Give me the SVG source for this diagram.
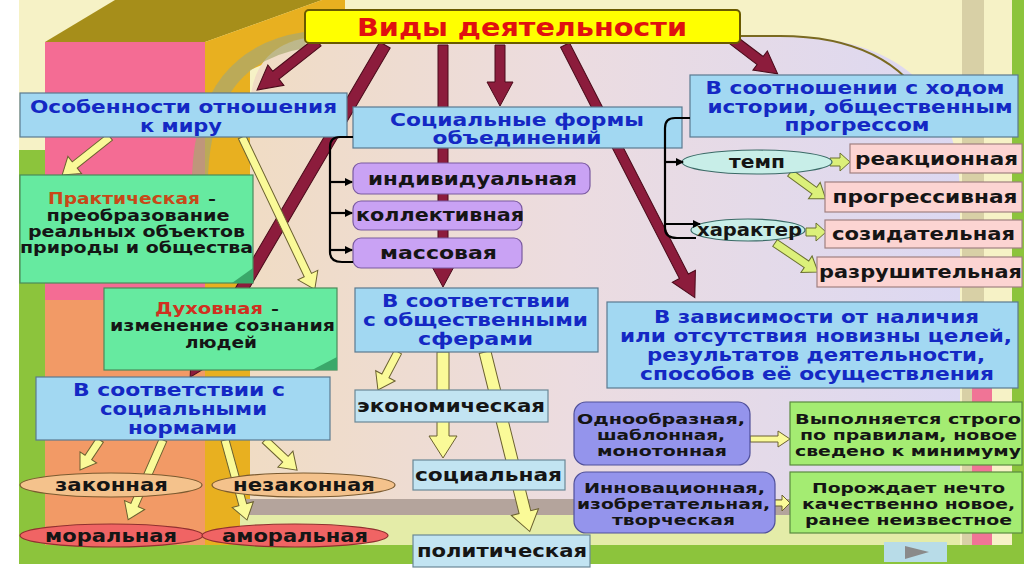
<svg xmlns="http://www.w3.org/2000/svg" width="1024" height="574" viewBox="0 0 1024 574">
<defs>
<linearGradient id="bgC" x1="0" y1="0" x2="1" y2="0">
<stop offset="0" stop-color="#f0dcc4"/>
<stop offset="0.45" stop-color="#ecdce0"/>
<stop offset="1" stop-color="#dcd8f2"/>
</linearGradient>
<marker id="bh" markerWidth="8" markerHeight="8" refX="7" refY="4" orient="auto" markerUnits="userSpaceOnUse">
<path d="M0,0 L8,4 L0,8 Z" fill="#000"/>
</marker>
<style>
.blue{fill:#a2d8f2;stroke:#5a7a90;stroke-width:1.2}
.lb{fill:#c2e4f2;stroke:#6a8896;stroke-width:1.2}
.pur{fill:#c9a2f4;stroke:#7a5aa0;stroke-width:1.2}
.pink{fill:#fcd4d2;stroke:#a08080;stroke-width:1.2}
.grn{fill:#66eaa0;stroke:#4a8a5a;stroke-width:1.2}
.lg{fill:#a4ec72;stroke:#5a8a40;stroke-width:1.2}
.per{fill:#9494ec;stroke:#50509a;stroke-width:1.2}
.tan{fill:#f4c28c;stroke:#7a5a30;stroke-width:1.2}
.red{fill:#f06464;stroke:#903030;stroke-width:1.2}
.teal{fill:#c8eee8;stroke:#3a6a66;stroke-width:1.2}
.t{font-family:"DejaVu Sans","Liberation Sans",sans-serif;font-weight:bold;text-anchor:middle}
.bt{fill:#1428c4}
.kt{fill:#151515}
.mar{fill:#8c1c3c;stroke:#4a0a1a;stroke-width:1}
.yel{fill:#fafa98;stroke:#6a6030;stroke-width:1}
.yg{fill:#dcf07a;stroke:#6a7030;stroke-width:1}
.br{fill:none;stroke:#000;stroke-width:2.2}
</style>
</defs>
<g id="background">
<rect x="0" y="0" width="1024" height="574" fill="#ffffff"/>
<rect x="19" y="0" width="1005" height="564" fill="#f6f2c6"/>
<rect x="19" y="150" width="26" height="414" fill="#8cc43c"/>
<polygon points="45,42 115,0 322,0 205,42" fill="#a68e1a"/>
<polygon points="205,42 322,0 345,0 345,30 250,70 250,545 205,545" fill="#e8b020"/>
<rect x="45" y="42" width="160" height="258" fill="#f46c94"/>
<rect x="45" y="300" width="160" height="245" fill="#f29a66"/>
<path d="M250,545 L250,110 Q250,36 330,36 L780,36 Q960,36 960,200 L960,545 Z" fill="url(#bgC)"/>
<path d="M735,36 L780,36 Q890,36 930,110" fill="none" stroke="#7a6a20" stroke-width="2"/>
<path d="M305,40 Q205,55 200,175" fill="none" stroke="#a8a870" stroke-width="16" opacity="0.7"/>
<rect x="240" y="499" width="720" height="16" fill="#b4a49c"/>
<rect x="240" y="515" width="720" height="30" fill="#e4eca8"/>
<rect x="962" y="0" width="22" height="545" fill="#d8d0a6"/>
<rect x="972" y="330" width="20" height="215" fill="#f07496"/>
<rect x="1012" y="0" width="12" height="545" fill="#8cc43c"/>
<rect x="19" y="545" width="1005" height="19" fill="#8cc43c"/>
<rect x="884" y="542" width="63" height="20" fill="#b8dce8"/>
<polygon points="905,546 905,559 929,552" fill="#8a8a8a"/>
</g>
<g id="connectors">
<polygon class="mar" transform="translate(318,42) rotate(141.8)" points="0,-5 53.6,-5 53.6,-13 77.6,0 53.6,13 53.6,5 0,5"/>
<polygon class="mar" transform="translate(385,45) rotate(120.4)" points="0,-6 359,-6 359,-14 385,0 359,14 359,6 0,6"/>
<polygon class="mar" transform="translate(443,45) rotate(90)" points="0,-5 218,-5 218,-13 242,0 218,13 218,5 0,5"/>
<polygon class="mar" transform="translate(500,45) rotate(90)" points="0,-5 37,-5 37,-13 61,0 37,13 37,5 0,5"/>
<polygon class="mar" transform="translate(565,45) rotate(62.8)" points="0,-5 260,-5 260,-13 284,0 260,13 260,5 0,5"/>
<polygon class="mar" transform="translate(733,40) rotate(37.1)" points="0,-5 34,-5 34,-12 56,0 34,12 34,5 0,5"/>
<polygon class="yel" transform="translate(110,137) rotate(141.6)" points="0,-4 45,-4 45,-11 61,0 45,11 45,4 0,4"/>
<polygon class="yel" transform="translate(242,137) rotate(64.5)" points="0,-4 153,-4 153,-11 169,0 153,11 153,4 0,4"/>
<polygon class="yel" transform="translate(100,440) rotate(123.7)" points="0,-4 21,-4 21,-10 36,0 21,10 21,4 0,4"/>
<polygon class="yel" transform="translate(163,440) rotate(113.6)" points="0,-4 71,-4 71,-11 87,0 71,11 71,4 0,4"/>
<polygon class="yel" transform="translate(225,440) rotate(74.6)" points="0,-4 67,-4 67,-11 83,0 67,11 67,4 0,4"/>
<polygon class="yel" transform="translate(265,440) rotate(43.2)" points="0,-4 28,-4 28,-11 44,0 28,11 28,4 0,4"/>
<polygon class="yel" transform="translate(398,352) rotate(117.8)" points="0,-4 27,-4 27,-11 43,0 27,11 27,4 0,4"/>
<polygon class="yel" transform="translate(443,352) rotate(90)" points="0,-6 84,-6 84,-14 106,0 84,14 84,6 0,6"/>
<polygon class="yel" transform="translate(485,352) rotate(76)" points="0,-6 165,-6 165,-14 185,0 165,14 165,6 0,6"/>
<polygon class="yg" transform="translate(830,162)" points="0,-4 10,-4 10,-9 20,0 10,9 10,4 0,4"/>
<polygon class="yg" transform="translate(790,173) rotate(35.8)" points="0,-4 30,-4 30,-10 44,0 30,10 30,4 0,4"/>
<polygon class="yg" transform="translate(806,232)" points="0,-4 10,-4 10,-9 20,0 10,9 10,4 0,4"/>
<polygon class="yg" transform="translate(775,243) rotate(34)" points="0,-4 38,-4 38,-10 52,0 38,10 38,4 0,4"/>
<polygon class="yel" transform="translate(750,439)" points="0,-3 28,-3 28,-8 40,0 28,8 28,3 0,3"/>
<polygon class="yel" transform="translate(773,503)" points="0,-3 9,-3 9,-8 17,0 9,8 9,3 0,3"/>
</g>
<g id="n-title">
<rect x="305" y="10" width="435" height="33" rx="4" fill="#ffff00" stroke="#6a5a00" stroke-width="2"/>
<text class="t" x="522" y="36" font-size="25" fill="#e01010" textLength="330" lengthAdjust="spacingAndGlyphs">Виды деятельности</text>
</g>
<g id="n-osobennosti">
<rect class="blue" x="20" y="93" width="327" height="44"/>
<text class="t bt" font-size="17" x="183.5" y="113" textLength="307" lengthAdjust="spacingAndGlyphs">Особенности отношения</text>
<text class="t bt" font-size="17" x="181" y="132" textLength="82" lengthAdjust="spacingAndGlyphs">к миру</text>
</g>
<g id="n-soc-formy">
<rect class="blue" x="353" y="107" width="329" height="41"/>
<text class="t bt" font-size="17" x="517" y="126" textLength="254" lengthAdjust="spacingAndGlyphs">Социальные формы</text>
<text class="t bt" font-size="17" x="517" y="144" textLength="169" lengthAdjust="spacingAndGlyphs">объединений</text>
</g>
<g id="n-sootnoshenie">
<rect class="blue" x="690" y="75" width="328" height="62"/>
<text class="t bt" font-size="17" x="855" y="94" textLength="299" lengthAdjust="spacingAndGlyphs">В соотношении с ходом</text>
<text class="t bt" font-size="17" x="860" y="113" textLength="305" lengthAdjust="spacingAndGlyphs">истории, общественным</text>
<text class="t bt" font-size="17" x="857" y="131" textLength="145" lengthAdjust="spacingAndGlyphs">прогрессом</text>
</g>
<g id="n-prakticheskaya">
<rect class="grn" x="20" y="175" width="233" height="108"/>
<polygon points="253,268 253,283 232,283" fill="#3aa86a"/>
<text class="t" font-size="15" x="48" y="204" fill="#c84818" style="text-anchor:start" textLength="152" lengthAdjust="spacingAndGlyphs">Практическая</text>
<text class="t kt" font-size="15" x="212" y="204">–</text>
<text class="t kt" font-size="15" x="138" y="221" textLength="183" lengthAdjust="spacingAndGlyphs">преобразование</text>
<text class="t kt" font-size="15" x="136.5" y="237" textLength="217" lengthAdjust="spacingAndGlyphs">реальных объектов</text>
<text class="t kt" font-size="15" x="136.5" y="253" textLength="233" lengthAdjust="spacingAndGlyphs">природы и общества</text>
</g>
<g id="n-duhovnaya">
<rect class="grn" x="104" y="288" width="233" height="82"/>
<polygon points="337,357 337,370 312,370" fill="#3aa86a"/>
<text class="t" font-size="15" x="155" y="314" fill="#d03020" style="text-anchor:start" textLength="108" lengthAdjust="spacingAndGlyphs">Духовная</text>
<text class="t kt" font-size="15" x="275" y="314">–</text>
<text class="t kt" font-size="15" x="222.5" y="331" textLength="225" lengthAdjust="spacingAndGlyphs">изменение сознания</text>
<text class="t kt" font-size="15" x="221" y="348" textLength="72" lengthAdjust="spacingAndGlyphs">людей</text>
</g>
<g id="n-soc-normy">
<rect class="blue" x="36" y="377" width="294" height="63"/>
<text class="t bt" font-size="17" x="179" y="396" textLength="212" lengthAdjust="spacingAndGlyphs">В соответствии с</text>
<text class="t bt" font-size="17" x="183.5" y="415" textLength="167" lengthAdjust="spacingAndGlyphs">социальными</text>
<text class="t bt" font-size="17" x="182.5" y="434" textLength="109" lengthAdjust="spacingAndGlyphs">нормами</text>
</g>
<g id="n-zakonnaya">
<ellipse class="tan" cx="111" cy="485" rx="91" ry="12"/>
<text class="t kt" font-size="18" x="111.5" y="491" textLength="113" lengthAdjust="spacingAndGlyphs">законная</text>
</g>
<g id="n-nezakonnaya">
<ellipse class="tan" cx="303.5" cy="485" rx="91.5" ry="12"/>
<text class="t kt" font-size="18" x="304" y="491" textLength="142" lengthAdjust="spacingAndGlyphs">незаконная</text>
</g>
<g id="n-moralnaya">
<ellipse class="red" cx="111.5" cy="535.5" rx="91.5" ry="11.5"/>
<text class="t kt" font-size="18" x="111" y="542" textLength="132" lengthAdjust="spacingAndGlyphs">моральная</text>
</g>
<g id="n-amoralnaya">
<ellipse class="red" cx="295" cy="535.5" rx="93" ry="11.5"/>
<text class="t kt" font-size="18" x="295" y="542" textLength="146" lengthAdjust="spacingAndGlyphs">аморальная</text>
</g>
<g id="n-individualnaya">
<rect class="pur" x="353" y="163" width="237" height="31" rx="8"/>
<text class="t kt" font-size="17" x="472.5" y="185" textLength="209" lengthAdjust="spacingAndGlyphs">индивидуальная</text>
</g>
<g id="n-kollektivnaya">
<rect class="pur" x="353" y="201" width="169" height="29" rx="8"/>
<text class="t kt" font-size="17" x="440" y="221" textLength="168" lengthAdjust="spacingAndGlyphs">коллективная</text>
</g>
<g id="n-massovaya">
<rect class="pur" x="353" y="238" width="169" height="30" rx="8"/>
<text class="t kt" font-size="17" x="438.5" y="259" textLength="117" lengthAdjust="spacingAndGlyphs">массовая</text>
</g>
<g id="n-obsh-sfery">
<rect class="blue" x="355" y="288" width="243" height="64"/>
<text class="t bt" font-size="17" x="476" y="307" textLength="188" lengthAdjust="spacingAndGlyphs">В соответствии</text>
<text class="t bt" font-size="17" x="475.5" y="326" textLength="225" lengthAdjust="spacingAndGlyphs">с общественными</text>
<text class="t bt" font-size="17" x="475.5" y="345" textLength="115" lengthAdjust="spacingAndGlyphs">сферами</text>
</g>
<g id="n-ekonomicheskaya">
<rect class="lb" x="355" y="390" width="193" height="32"/>
<text class="t kt" font-size="18" x="451" y="412" textLength="188" lengthAdjust="spacingAndGlyphs">экономическая</text>
</g>
<g id="n-socialnaya">
<rect class="lb" x="413" y="460" width="152" height="30"/>
<text class="t kt" font-size="18" x="488.5" y="481" textLength="147" lengthAdjust="spacingAndGlyphs">социальная</text>
</g>
<g id="n-politicheskaya">
<rect class="lb" x="413" y="535" width="177" height="32"/>
<text class="t kt" font-size="18" x="502" y="557" textLength="170" lengthAdjust="spacingAndGlyphs">политическая</text>
</g>
<g id="n-temp">
<ellipse class="teal" cx="757" cy="162" rx="75" ry="12"/>
<text class="t kt" font-size="17" x="757" y="168" textLength="56" lengthAdjust="spacingAndGlyphs">темп</text>
</g>
<g id="n-harakter">
<ellipse class="teal" cx="748" cy="230" rx="57" ry="11"/>
<text class="t kt" font-size="17" x="749.5" y="236" textLength="105" lengthAdjust="spacingAndGlyphs">характер</text>
</g>
<g id="n-reakcionnaya">
<rect class="pink" x="850" y="144" width="172" height="29"/>
<text class="t kt" font-size="17" x="936.5" y="165" textLength="163" lengthAdjust="spacingAndGlyphs">реакционная</text>
</g>
<g id="n-progressivnaya">
<rect class="pink" x="825" y="182" width="197" height="30"/>
<text class="t kt" font-size="17" x="925" y="203" textLength="185" lengthAdjust="spacingAndGlyphs">прогрессивная</text>
</g>
<g id="n-sozidatelnaya">
<rect class="pink" x="825" y="220" width="197" height="28"/>
<text class="t kt" font-size="17" x="923.5" y="240" textLength="183" lengthAdjust="spacingAndGlyphs">созидательная</text>
</g>
<g id="n-razrushitelnaya">
<rect class="pink" x="817" y="257" width="205" height="30"/>
<text class="t kt" font-size="17" x="920.5" y="278" textLength="203" lengthAdjust="spacingAndGlyphs">разрушительная</text>
</g>
<g id="n-novizna">
<rect class="blue" x="607" y="302" width="411" height="86"/>
<text class="t bt" font-size="17" x="816.5" y="323" textLength="325" lengthAdjust="spacingAndGlyphs">В зависимости от наличия</text>
<text class="t bt" font-size="17" x="816" y="342" textLength="392" lengthAdjust="spacingAndGlyphs">или отсутствия новизны целей,</text>
<text class="t bt" font-size="17" x="816" y="361" textLength="338" lengthAdjust="spacingAndGlyphs">результатов деятельности,</text>
<text class="t bt" font-size="17" x="817" y="380" textLength="354" lengthAdjust="spacingAndGlyphs">способов её осуществления</text>
</g>
<g id="n-odnoobraznaya">
<rect class="per" x="574" y="402" width="176" height="63" rx="12"/>
<text class="t kt" font-size="14.5" x="661" y="424" textLength="168" lengthAdjust="spacingAndGlyphs">Однообразная,</text>
<text class="t kt" font-size="14.5" x="661" y="440" textLength="128" lengthAdjust="spacingAndGlyphs">шаблонная,</text>
<text class="t kt" font-size="14.5" x="662" y="456" textLength="130" lengthAdjust="spacingAndGlyphs">монотонная</text>
</g>
<g id="n-innovacionnaya">
<rect class="per" x="574" y="472" width="201" height="61" rx="12"/>
<text class="t kt" font-size="14.5" x="674.5" y="493" textLength="181" lengthAdjust="spacingAndGlyphs">Инновационная,</text>
<text class="t kt" font-size="14.5" x="673.5" y="509" textLength="193" lengthAdjust="spacingAndGlyphs">изобретательная,</text>
<text class="t kt" font-size="14.5" x="673.5" y="525" textLength="123" lengthAdjust="spacingAndGlyphs">творческая</text>
</g>
<g id="n-vypolnyaetsya">
<rect class="lg" x="790" y="402" width="232" height="63"/>
<text class="t kt" font-size="14.5" x="908" y="424" textLength="226" lengthAdjust="spacingAndGlyphs">Выполняется строго</text>
<text class="t kt" font-size="14.5" x="908.5" y="440" textLength="217" lengthAdjust="spacingAndGlyphs">по правилам, новое</text>
<text class="t kt" font-size="14.5" x="908" y="456" textLength="226" lengthAdjust="spacingAndGlyphs">сведено к минимуму</text>
</g>
<g id="n-porozhdaet">
<rect class="lg" x="790" y="472" width="232" height="61"/>
<text class="t kt" font-size="14.5" x="908.5" y="493" textLength="193" lengthAdjust="spacingAndGlyphs">Порождает нечто</text>
<text class="t kt" font-size="14.5" x="908.5" y="509" textLength="213" lengthAdjust="spacingAndGlyphs">качественно новое,</text>
<text class="t kt" font-size="14.5" x="908.5" y="525" textLength="207" lengthAdjust="spacingAndGlyphs">ранее неизвестное</text>
</g>
<g id="connectors-brackets">
<path class="br" d="M353,137 L340,137 Q330,137 330,147 L330,252 Q330,262 342,262 L353,262"/>
<line class="br" x1="330" y1="182" x2="352" y2="182" marker-end="url(#bh)"/>
<line class="br" x1="330" y1="213" x2="352" y2="213" marker-end="url(#bh)"/>
<line class="br" x1="330" y1="250" x2="352" y2="250" marker-end="url(#bh)"/>
<path class="br" d="M690,118 L675,118 Q665,118 665,128 L665,228 Q665,238 677,238 L696,238"/>
<line class="br" x1="665" y1="162" x2="683" y2="162" marker-end="url(#bh)"/>
<line class="br" x1="665" y1="224" x2="700" y2="224" marker-end="url(#bh)"/>
</g>
</svg>
